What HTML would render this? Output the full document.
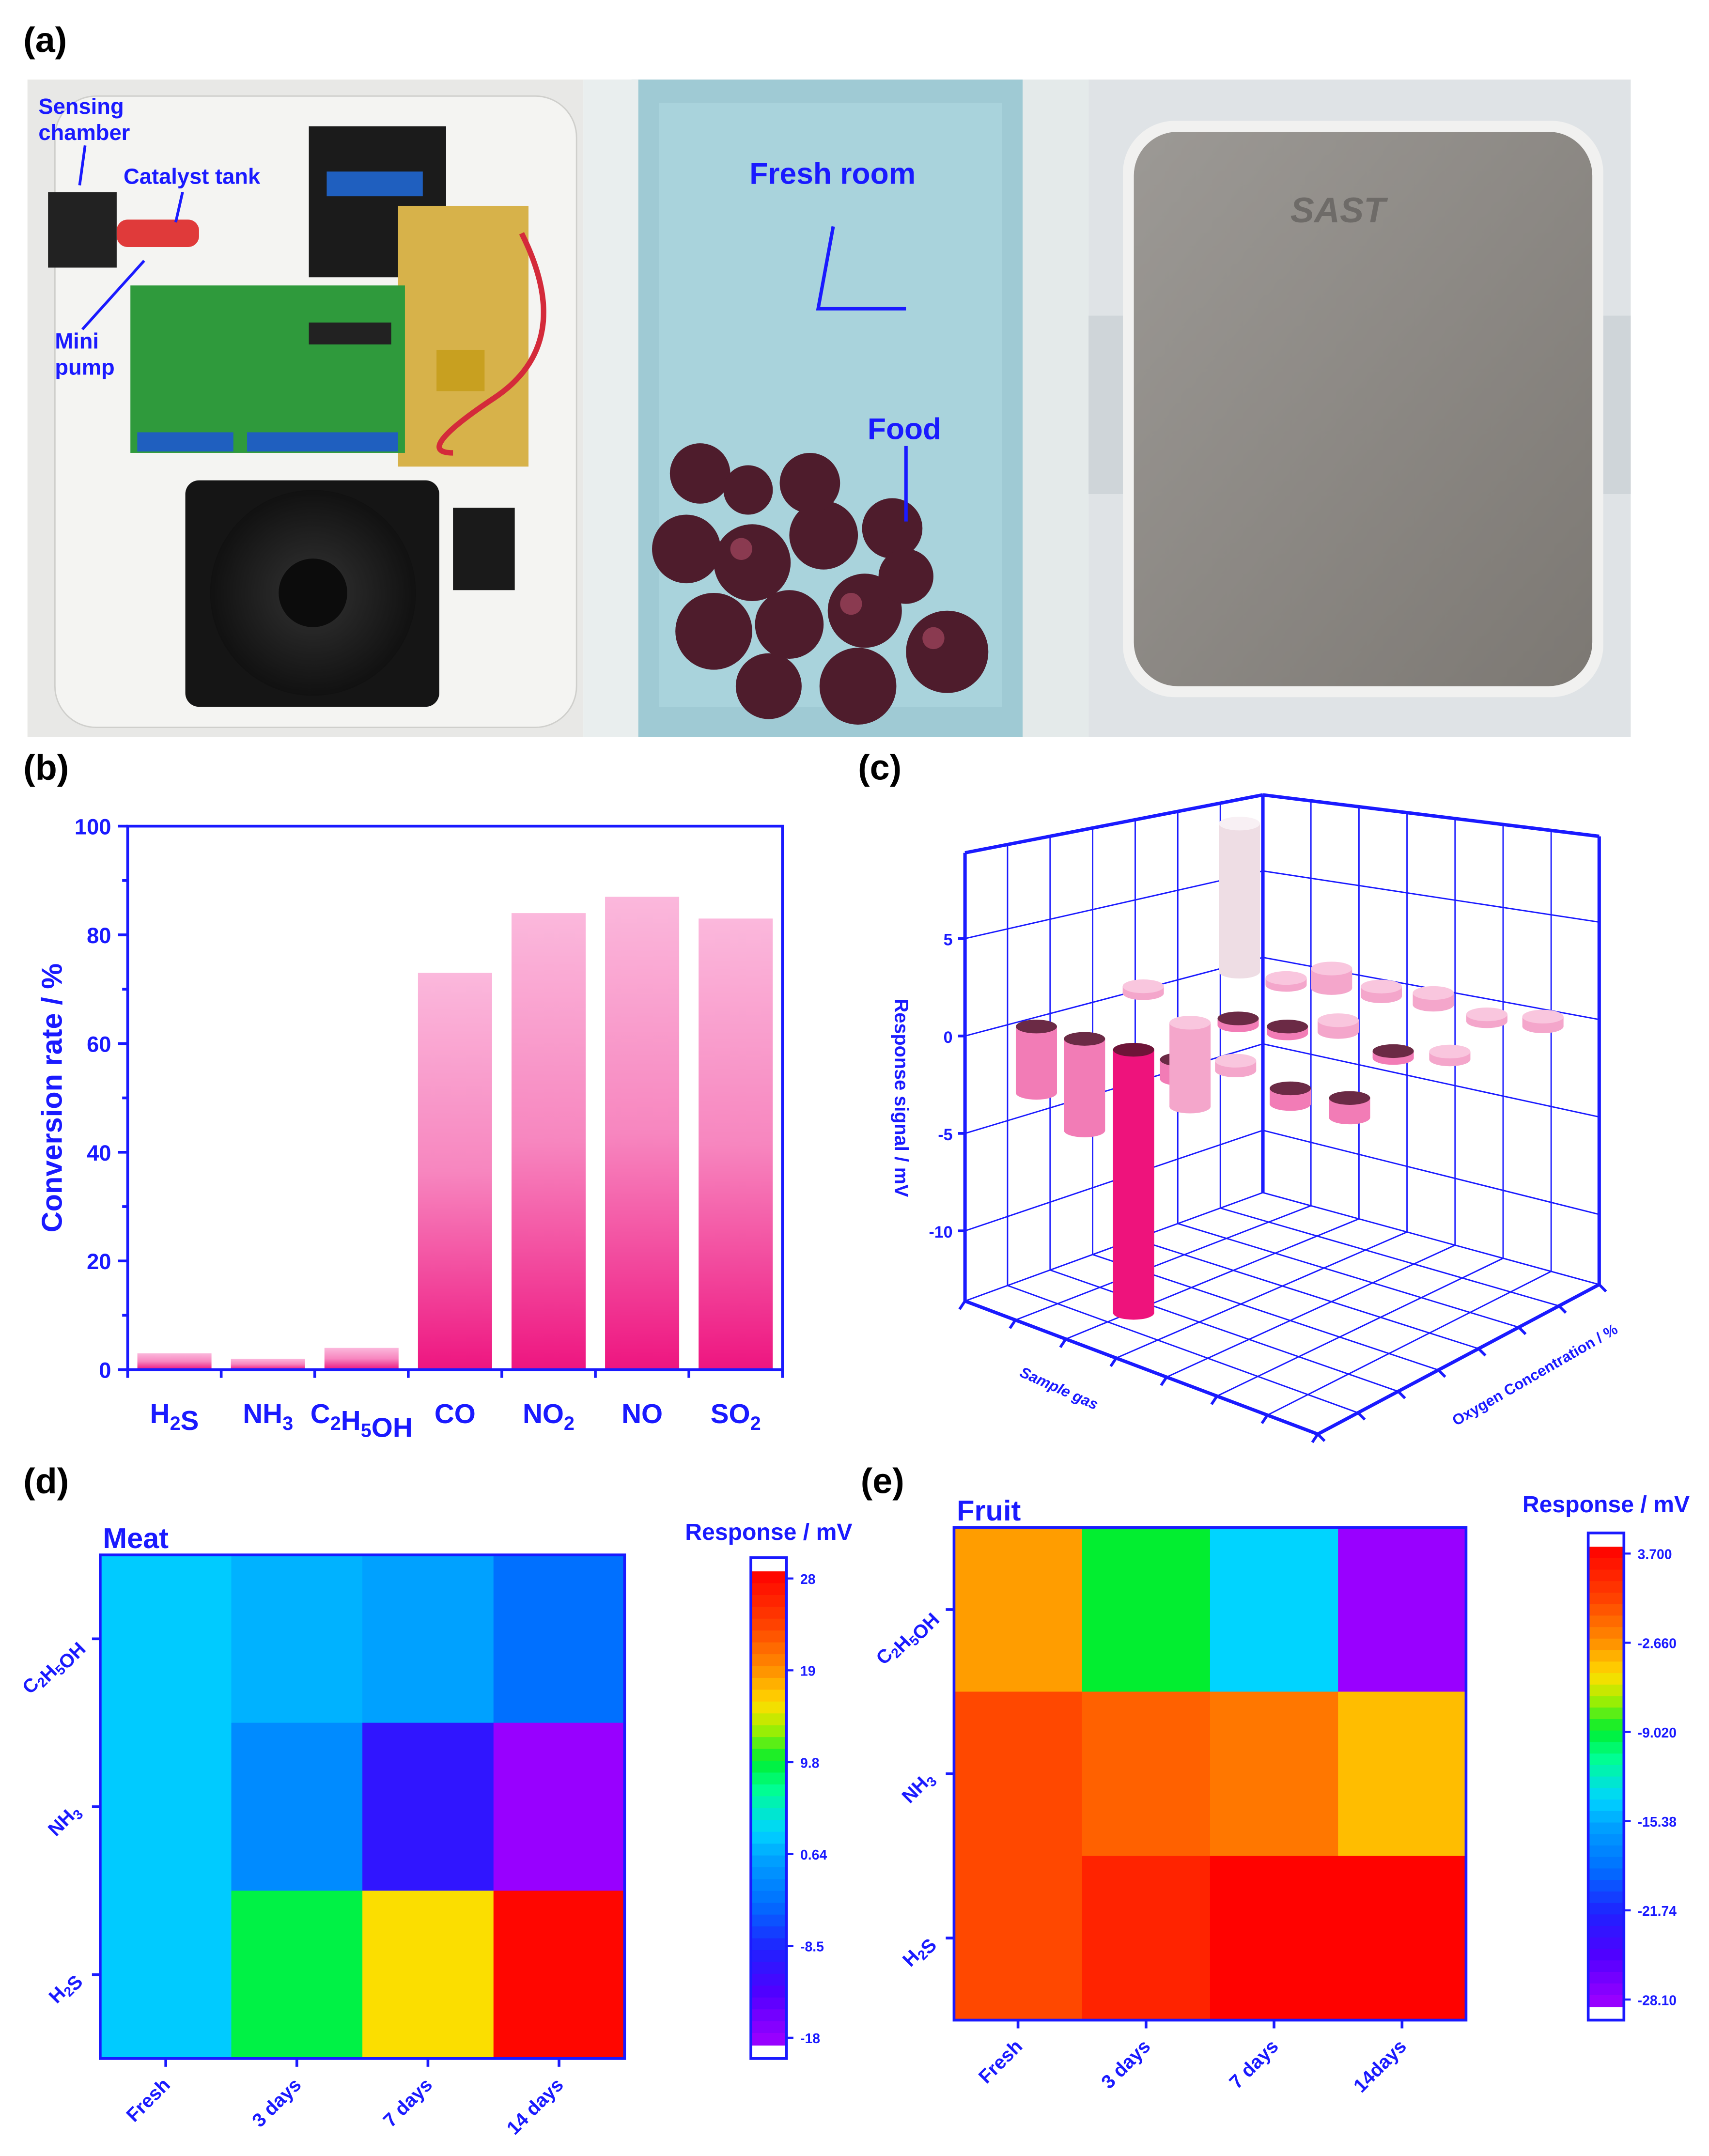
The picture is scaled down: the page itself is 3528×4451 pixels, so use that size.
<!DOCTYPE html>
<html><head><meta charset="utf-8"><title>Gas sensing figure</title>
<style>
html,body{margin:0;padding:0;background:#fff;}
svg{display:block;font-family:"Liberation Sans",Arial,sans-serif;}
</style></head>
<body>
<svg id="fig" xmlns="http://www.w3.org/2000/svg" width="3528" height="4451" viewBox="0 0 1245 1571" preserveAspectRatio="none">
<defs>
<linearGradient id="barGrad" x1="0" y1="0" x2="0" y2="1">
<stop offset="0" stop-color="#fbb8dc"/><stop offset="0.5" stop-color="#f786bf"/><stop offset="1" stop-color="#ee1580"/>
</linearGradient>
<radialGradient id="fanGrad" cx="0.5" cy="0.5" r="0.5"><stop offset="0" stop-color="#333"/><stop offset="1" stop-color="#111"/></radialGradient>
<linearGradient id="devGrad" x1="0" y1="0" x2="1" y2="1"><stop offset="0" stop-color="#9c9995"/><stop offset="1" stop-color="#7c7873"/></linearGradient>
</defs>

<g font-weight="bold" font-size="26" fill="#000">
<text x="17" y="38">(a)</text>
<text x="17" y="568">(b)</text>
<text x="625" y="568">(c)</text>
<text x="17" y="1088">(d)</text>
<text x="627" y="1088">(e)</text>
</g>

<g>
<rect x="20" y="58" width="405" height="479" fill="#e8e8e6"/>
<rect x="40" y="70" width="380" height="460" rx="30" fill="#f4f4f2" stroke="#cfcfcc"/>
<rect x="225" y="92" width="100" height="110" fill="#1b1b1b"/>
<rect x="238" y="125" width="70" height="18" fill="#1f5fbf"/>
<rect x="290" y="150" width="95" height="190" fill="#d7b24a"/>
<rect x="318" y="255" width="35" height="30" fill="#c8a020"/>
<rect x="95" y="208" width="200" height="122" fill="#2f9a3c"/>
<rect x="100" y="315" width="70" height="14" fill="#1f5fbf"/>
<rect x="180" y="315" width="110" height="14" fill="#1f5fbf"/>
<rect x="225" y="235" width="60" height="16" fill="#222"/>
<rect x="35" y="140" width="50" height="55" fill="#222"/>
<rect x="85" y="160" width="60" height="20" rx="8" fill="#e03a3a"/>
<path d="M380,170 Q420,250 360,290 Q300,330 330,330" stroke="#d42a3a" stroke-width="4" fill="none"/>
<rect x="135" y="350" width="185" height="165" rx="10" fill="#151515"/>
<circle cx="228" cy="432" r="75" fill="url(#fanGrad)"/>
<circle cx="228" cy="432" r="25" fill="#0c0c0c"/>
<rect x="330" y="370" width="45" height="60" fill="#1a1a1a"/>
<g fill="#1a1aff" font-weight="bold" font-size="16">
<text x="28" y="83">Sensing</text>
<text x="28" y="102">chamber</text>
<text x="90" y="134">Catalyst tank</text>
<text x="40" y="254">Mini</text>
<text x="40" y="273">pump</text>
</g>
<g stroke="#1a1aff" stroke-width="2"><line x1="62" y1="106" x2="58" y2="135"/><line x1="133" y1="140" x2="128" y2="162"/><line x1="60" y1="240" x2="105" y2="190"/></g>
</g>

<g>
<rect x="425" y="58" width="368" height="479" fill="#f0f2f2"/>
<rect x="460" y="58" width="285" height="479" fill="#9fcad4"/>
<rect x="480" y="75" width="250" height="440" fill="#a9d3dc"/>
<rect x="425" y="58" width="40" height="479" fill="#e9eeee"/>
<rect x="745" y="58" width="48" height="479" fill="#e4eaea"/>
<g fill="#4e1c2c">
<circle cx="500" cy="400" r="25"/><circle cx="548" cy="410" r="28"/><circle cx="600" cy="390" r="25"/>
<circle cx="520" cy="460" r="28"/><circle cx="575" cy="455" r="25"/><circle cx="630" cy="445" r="27"/>
<circle cx="690" cy="475" r="30"/><circle cx="625" cy="500" r="28"/><circle cx="560" cy="500" r="24"/>
<circle cx="510" cy="345" r="22"/><circle cx="590" cy="352" r="22"/><circle cx="650" cy="385" r="22"/>
<circle cx="660" cy="420" r="20"/><circle cx="545" cy="357" r="18"/>
</g>
<g fill="#8a3a50"><circle cx="540" cy="400" r="8"/><circle cx="620" cy="440" r="8"/><circle cx="680" cy="465" r="8"/></g>
<g fill="#1a1aff" font-weight="bold" font-size="22">
<text x="546" y="134">Fresh room</text>
<text x="632" y="320">Food</text>
</g>
<g stroke="#1a1aff" stroke-width="2.5" fill="none"><polyline points="607,165 596,225 660,225"/><line x1="660" y1="325" x2="660" y2="380"/></g>
</g>

<g>
<rect x="793" y="58" width="395" height="479" fill="#dfe3e6"/>
<rect x="793" y="230" width="395" height="130" fill="#cfd5d9"/>
<rect x="818" y="88" width="350" height="420" rx="38" fill="#f1f1f0"/>
<rect x="826" y="96" width="334" height="404" rx="32" fill="url(#devGrad)"/>
<text x="940" y="162" font-size="26" font-weight="bold" font-style="italic" fill="#6e6b68">SAST</text>
</g>

<g id="panelB"></g>
<g id="panelC"></g>
<g id="panelD"></g>
<g id="panelE"></g>
</svg>

<script>
const NS='http://www.w3.org/2000/svg';
function mk(tag,attrs,parent){const e=document.createElementNS(NS,tag);for(const k in attrs)e.setAttribute(k,attrs[k]);parent.appendChild(e);return e;}
const BLUE='#1a1aff';

/* ---------- Panel B data ---------- */
const barCategories=['H2S','NH3','C2H5OH','CO','NO2','NO','SO2'];
const barValues=[3,2,4,73,84,87,83];
const barYTicks=[0,20,40,60,80,100];

(function(){
const g=document.getElementById('panelB');
const x0=93,x1=570,y0=998,y1=602;
const ys=v=>y0-(v/100)*(y0-y1);
const step=(x1-x0)/barCategories.length;
const xs=i=>x0+step*(i+0.5);
barValues.forEach((v,i)=>{
 const r=mk('rect',{x:xs(i)-27,y:ys(v),width:54,height:y0-ys(v),fill:'url(#barGrad)'},g);
 
 
});
const ax=mk('rect',{x:x0,y:y1,width:x1-x0,height:y0-y1,fill:'none',stroke:BLUE,'stroke-width':2},g);


for(let v=0;v<=100;v+=10){
 const big=v%20===0;
 mk('line',{x1:x0,x2:x0-(big?7:4),y1:ys(v),y2:ys(v),stroke:BLUE,'stroke-width':2},g);
}
barYTicks.forEach(v=>{
 const t=mk('text',{x:x0-12,y:ys(v)+6,'text-anchor':'end','font-size':16,'font-weight':'bold',fill:BLUE},g);
 t.textContent=v;
 
 
});
for(let i=0;i<=barCategories.length;i++){mk('line',{x1:x0+step*i,x2:x0+step*i,y1:y0,y2:y0+6,stroke:BLUE,'stroke-width':2},g);}
const yt=mk('text',{x:0,y:0,transform:'translate(45,800) rotate(-90)','text-anchor':'middle','font-size':21,'font-weight':'bold',fill:BLUE},g);
yt.textContent='Conversion rate / %';


barCategories.forEach((c,i)=>{
 const t=mk('text',{x:xs(i),y:1037,'text-anchor':'middle','font-size':20,'font-weight':'bold',fill:BLUE},g);
 const parts=c.match(/[A-Za-z]+|\d+/g);
 parts.forEach(p=>{
  const isNum=/\d/.test(p);
  const s=mk('tspan',isNum?{'font-size':14,dy:5}:{dy:0},t);
  s.textContent=p;
  if(isNum){const b=mk('tspan',{'font-size':20,dy:-5},t);b.textContent='';}
 });
 
 
});
})();

/* ---------- Panel C data ---------- */
const cylGas=[0,0.83,1.64,0.49,2.90,2.40,1.16,2.17,3.28,1.97,2.92,4.31,2.59,3.63,5.21,3.35,4.69,4.14,5.53,5.06,5.89];
const cylOxy=[0,0.15,0.35,2.06,0.16,0.56,3.62,2.30,0.82,3.76,2.58,0.88,4.11,2.95,1.22,4.39,2.98,4.69,3.33,4.86,5.21];
const cylLow=[-3.4,-4.7,-13.5,0,-1.5,-1,0,-0.3,0,0,-0.3,-0.8,0,0,-1,0,-0.3,0,0,0,0];
const cylHigh=[0,0,0,0.3,2.8,0,7.6,0,0.5,0.3,0,0,1,0.6,0,0.5,0,0.6,0.4,0.2,0.5];
const zTicks=[-10,-5,0,5];

(function(){
const g=document.getElementById('panelC');
// box projection (bilinear floor, varying vertical scale)
const A=[703,948],B=[960,1045],C=[1165,936],D=[920,869];
const SA=14.2,SB=15,SC=14.2,SD=12.6;
const zb=-13.6,zt=9.4;
const Q=(u,w,z)=>{
 const a=(1-u)*(1-w),b=u*(1-w),c=u*w,d=(1-u)*w;
 const x=A[0]*a+B[0]*b+C[0]*c+D[0]*d;
 const y=A[1]*a+B[1]*b+C[1]*c+D[1]*d;
 const sc=SA*a+SB*b+SC*c+SD*d;
 return [x,y-(z-zb)*sc];
};
// cylinder placement projection
const O=[755,748];
const P=(s,o,z)=>[O[0]+s*37+o*29,O[1]+s*13.6-o*15.4-z*14.2];
const L=(a,b,w)=>mk('line',{x1:a[0],y1:a[1],x2:b[0],y2:b[1],stroke:BLUE,'stroke-width':w||1},g);
for(let k=0;k<=7;k++){const f=k/7;
 L(Q(f,0,zb),Q(f,1,zb));L(Q(0,f,zb),Q(1,f,zb));
 L(Q(0,f,zb),Q(0,f,zt));L(Q(f,1,zb),Q(f,1,zt));
}
zTicks.forEach(z=>{L(Q(0,0,z),Q(0,1,z));L(Q(0,1,z),Q(1,1,z));});
L(Q(0,0,zb),Q(1,0,zb),2.5);L(Q(1,0,zb),Q(1,1,zb),2.5);L(Q(0,0,zb),Q(0,0,zt),2.5);
L(Q(0,0,zt),Q(0,1,zt),2.5);L(Q(0,1,zt),Q(1,1,zt),2.5);L(Q(1,1,zt),Q(1,1,zb),2.5);L(Q(0,1,zb),Q(0,1,zt),2.5);
zTicks.forEach(z=>{
 const p=Q(0,0,z);
 L(p,[p[0]-5,p[1]],2);
 const t=mk('text',{x:p[0]-9,y:p[1]+5,'text-anchor':'end','font-size':12,'font-weight':'bold',fill:BLUE},g);
 t.textContent=z;
 
 
});
for(let k=0;k<=7;k++){const p=Q(k/7,0,zb);L(p,[p[0]-4,p[1]+6],2);const q=Q(1,k/7,zb);L(q,[q[0]+5,q[1]+5],2);}
const tt=mk('text',{x:0,y:0,transform:'translate(652,800) rotate(90)','text-anchor':'middle','font-size':14,'font-weight':'bold',fill:BLUE},g);
tt.textContent='Response signal / mV';


const st=mk('text',{x:0,y:0,transform:'translate(770,1015) rotate(24)','text-anchor':'middle','font-size':11,'font-weight':'bold','font-style':'italic',fill:BLUE},g);
st.textContent='Sample gas';


const ot=mk('text',{x:0,y:0,transform:'translate(1120,1005) rotate(-30)','text-anchor':'middle','font-size':11,'font-weight':'bold',fill:BLUE},g);
ot.textContent='Oxygen Concentration / %';


const idx=cylGas.map((_,i)=>i).sort((a,b)=>(cylGas[a]-cylOxy[a])-(cylGas[b]-cylOxy[b]));
idx.forEach(i=>{
 const lo=cylLow[i],hi=cylHigh[i];
 const top=P(cylGas[i],cylOxy[i],hi),bot=P(cylGas[i],cylOxy[i],lo);
 let body,cap;
 if(hi>5){body='#eedde4';cap='#f8f0f4';}
 else if(lo<-10){body='#ee137c';cap='#6e1438';}
 else if(hi<=0){body='#f27cb6';cap='#6b2a45';}
 else {body='#f4a6cb';cap='#f9c6de';}
 const h=Math.max(bot[1]-top[1],5);
 const cg=mk('g',{},g);
 
 
 mk('ellipse',{cx:bot[0],cy:top[1]+h,rx:15,ry:5,fill:body},cg);
 mk('rect',{x:top[0]-15,y:top[1],width:30,height:h,fill:body},cg);
 mk('ellipse',{cx:top[0],cy:top[1],rx:15,ry:5,fill:cap},cg);
});
})();

/* ---------- Heatmaps ---------- */
const cmapStops=[[0,'#a000ff'],[0.11,'#5000ff'],[0.2,'#2020ff'],[0.3,'#0070ff'],[0.39,'#00a0ff'],[0.45,'#00d4ff'],[0.54,'#00ff90'],[0.6,'#00ee30'],[0.67,'#aaee00'],[0.72,'#ffdd00'],[0.8,'#ff8800'],[0.89,'#ff4000'],[1,'#ff0000']];
function cmap(t){
 t=Math.max(0,Math.min(1,t));
 for(let i=1;i<cmapStops.length;i++){if(t<=cmapStops[i][0]){const a=cmapStops[i-1],b=cmapStops[i];const f=(t-a[0])/(b[0]-a[0]);
  const ca=[1,3,5].map(k=>parseInt(a[1].substr(k,2),16)),cb=[1,3,5].map(k=>parseInt(b[1].substr(k,2),16));
  return 'rgb('+ca.map((c,j)=>Math.round(c+(cb[j]-c)*f)).join(',')+')';}}
 return cmapStops[cmapStops.length-1][1];
}
const heatRows=['C2H5OH','NH3','H2S'];
const meatCols=['Fresh','3 days','7 days','14 days'];
const fruitCols=['Fresh','3 days','7 days','14days'];
const meatC2H5OH=[2.2,0.9,0,-4.2];
const meatNH3=[2.2,-1.9,-10.2,-17.5];
const meatH2S=[2.2,9,15,27.5];
const fruitC2H5OH=[-3.3,-9,-13.8,-27.8];
const fruitNH3=[-0.1,-1.1,-2.0,-4.25];
const fruitH2S=[-0.1,1.8,3.6,3.6];
const meatTicks=['28','19','9.8','0.64','-8.5','-18'];
const fruitTicks=['3.700','-2.660','-9.020','-15.38','-21.74','-28.10'];

function heat(gid,box,rowsData,cols,vmin,vmax,title,cbar,ticks,cbTitle){
 const g=document.getElementById(gid);
 const [x0,y0,x1,y1]=box;
 const cw=(x1-x0)/cols.length,rh=(y1-y0)/rowsData.length;
 rowsData.forEach((row,r)=>row.forEach((v,c)=>{
  const e=mk('rect',{x:x0+c*cw,y:y0+r*rh,width:cw+0.5,height:rh+0.5,fill:cmap((v-vmin)/(vmax-vmin))},g);
  
  
 }));
 mk('rect',{x:x0,y:y0,width:x1-x0,height:y1-y0,fill:'none',stroke:BLUE,'stroke-width':2},g);
 const tl=mk('text',{x:x0+2,y:y0-5,'font-size':21,'font-weight':'bold',fill:BLUE},g);
 tl.textContent=title;
 
 
 heatRows.forEach((name,r)=>{
  const cy=y0+(r+0.5)*rh;
  mk('line',{x1:x0,x2:x0-6,y1:cy,y2:cy,stroke:BLUE,'stroke-width':2},g);
  const t=mk('text',{x:0,y:0,transform:'translate('+(x0-14)+','+(cy+4)+') rotate(-45)','text-anchor':'end','font-size':14,'font-weight':'bold',fill:BLUE},g);
  (name.match(/[A-Za-z]+|\d+/g)).forEach(p=>{const isN=/\d/.test(p);const s=mk('tspan',isN?{'font-size':10,dy:3}:{},t);s.textContent=p;if(isN){mk('tspan',{dy:-3},t);}});
  
  
 });
 cols.forEach((name,c)=>{
  const cx=x0+(c+0.5)*cw;
  mk('line',{x1:cx,x2:cx,y1:y1,y2:y1+6,stroke:BLUE,'stroke-width':2},g);
  const t=mk('text',{x:0,y:0,transform:'translate('+(cx+4)+','+(y1+20)+') rotate(-45)','text-anchor':'end','font-size':14,'font-weight':'bold',fill:BLUE},g);
  t.textContent=name;
  
  
 });
 const [bx,by0,bw,by1]=cbar;
 const top=by0+10,bot=by1-10,n=40;
 mk('rect',{x:bx,y:by0,width:bw,height:by1-by0,fill:'#fff'},g);
 for(let i=0;i<n;i++){
  const e=mk('rect',{x:bx,y:top+(bot-top)*i/n,width:bw,height:(bot-top)/n+0.5,fill:cmap(1-(i+0.5)/n)},g);
  
  
 }
 mk('rect',{x:bx,y:by0,width:bw,height:by1-by0,fill:'none',stroke:BLUE,'stroke-width':2},g);
 ticks.forEach((s,i)=>{
  const y=top+(bot-top)*i/(ticks.length-1)*0.97+(bot-top)*0.015;
  mk('line',{x1:bx+bw,x2:bx+bw+5,y1:y,y2:y,stroke:BLUE,'stroke-width':1.5},g);
  const t=mk('text',{x:bx+bw+10,y:y+4,'font-size':10,'font-weight':'bold',fill:BLUE},g);
  t.textContent=s;
  
  
 });
 const ct=mk('text',{x:cbTitle[0],y:cbTitle[1],'text-anchor':'middle','font-size':17,'font-weight':'bold',fill:BLUE},g);
 ct.textContent='Response / mV';
 
 
}
heat('panelD',[73,1133,455,1500],[meatC2H5OH,meatNH3,meatH2S],meatCols,-18,28,'Meat',[547,1135,26,1500],meatTicks,[560,1122]);
heat('panelE',[695,1113,1068,1472],[fruitC2H5OH,fruitNH3,fruitH2S],fruitCols,-28.1,3.7,'Fruit',[1157,1117,26,1472],fruitTicks,[1170,1102]);
</script>
</body></html>
